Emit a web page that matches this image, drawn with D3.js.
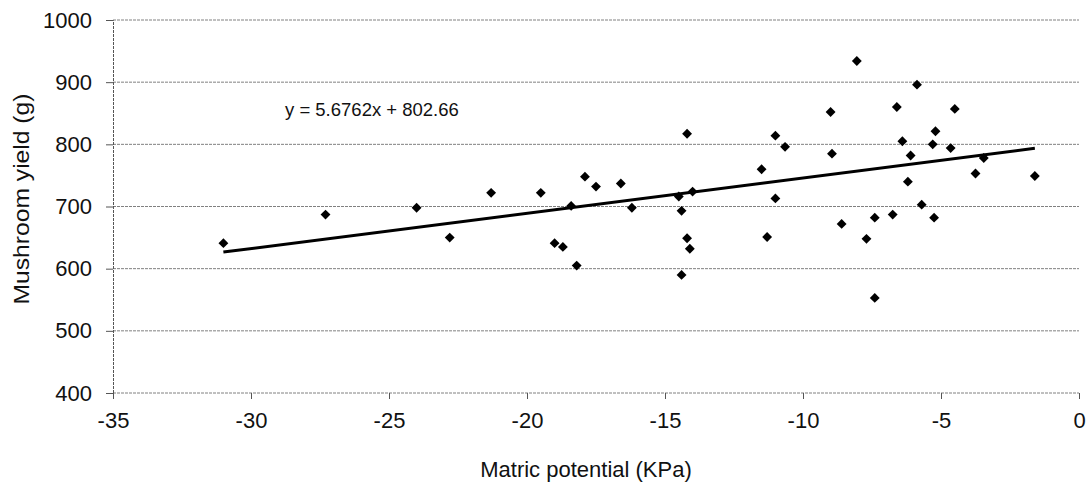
<!DOCTYPE html>
<html>
<head>
<meta charset="utf-8">
<script src="https://cdn.jsdelivr.net/npm/d3@7/dist/d3.min.js"></script>
<style>
  html, body { margin: 0; padding: 0; background: #fff; }
  svg { display: block; font-family: "Liberation Sans", Arial, sans-serif; }
</style>
</head>
<body>
<svg id="chart" width="1090" height="490"></svg>
<script>
// Matric potential (KPa) of each substrate sample
const potential = [
  -31.0, -27.3, -24.0, -22.8, -21.3, -19.5, -19.0, -18.7, -18.4, -18.2,
  -17.9, -17.5, -16.6, -16.2, -14.5, -14.4, -14.4, -14.2, -14.2, -14.1,
  -14.0, -11.5, -11.3, -11.0, -11.0, -10.65, -9.0, -8.95, -8.6, -8.05,
  -7.7, -7.4, -7.4, -6.75, -6.6, -6.4, -6.2, -6.1, -5.87, -5.7,
  -5.3, -5.2, -5.25, -4.65, -4.5, -3.75, -3.45, -1.6
];
// Mushroom yield (g) for the same samples
const yieldG = [
  641, 687, 698, 650, 722, 722, 641, 635, 701, 605,
  748, 732, 737, 698, 716, 693, 590, 817, 649, 632,
  724, 760, 651, 814, 713, 796, 852, 785, 672, 934,
  648, 682, 553, 687, 860, 805, 740, 782, 896, 703,
  800, 821, 682, 794, 857, 753, 778, 749
];
// Linear trend: y = slope * x + intercept
const slope = 5.6762;
const intercept = 802.66;
const xTicks = [-35, -30, -25, -20, -15, -10, -5, 0];
const yTicks = [400, 500, 600, 700, 800, 900, 1000];

const svg = d3.select("#chart");
const x = d3.scaleLinear().domain([-35, 0]).range([113, 1079]);
const y = d3.scaleLinear().domain([400, 1000]).range([393, 20]);

const gridColor = "#808080";
const plain = d => String(d);   // hyphen minus, no thousands separator

// horizontal gridlines
svg.append("g").selectAll("line").data(yTicks).join("line")
  .attr("x1", x(-35)).attr("x2", x(0))
  .attr("y1", d => y(d)).attr("y2", d => y(d))
  .attr("stroke", gridColor).attr("stroke-width", 1)
  .attr("stroke-dasharray", "3,1");

// y axis
const yAxis = svg.append("g")
  .attr("transform", `translate(${x(-35)},0)`)
  .call(d3.axisLeft(y).tickValues(yTicks).tickFormat(plain).tickSize(7).tickPadding(14));
yAxis.select(".domain").attr("stroke", "#555").attr("stroke-dasharray", "3,1");
yAxis.selectAll(".tick line").attr("stroke", "#555");
yAxis.selectAll("text").attr("font-size", 22).attr("fill", "#111")
  .attr("font-family", "Liberation Sans, Arial, sans-serif");

// x axis
const xAxis = svg.append("g")
  .attr("transform", `translate(0,${y(400)})`)
  .call(d3.axisBottom(x).tickValues(xTicks).tickFormat(plain).tickSize(6).tickPadding(13));
xAxis.select(".domain").remove();
xAxis.selectAll(".tick line").attr("stroke", "#555");
xAxis.selectAll("text").attr("font-size", 22).attr("fill", "#111")
  .attr("font-family", "Liberation Sans, Arial, sans-serif");

// regression line over the data range
const [xmin, xmax] = d3.extent(potential);
svg.append("line")
  .attr("x1", x(xmin)).attr("y1", y(slope * xmin + intercept))
  .attr("x2", x(xmax)).attr("y2", y(slope * xmax + intercept))
  .attr("stroke", "#000").attr("stroke-width", 3);

// data points as diamonds
const diamond = d3.symbol().type(d3.symbolDiamond2).size(62);
svg.append("g").selectAll("path").data(potential).join("path")
  .attr("d", diamond)
  .attr("transform", (d, i) => `translate(${x(d)},${y(yieldG[i])})`)
  .attr("fill", "#000");

// equation label
svg.append("text")
  .attr("x", 285).attr("y", 116)
  .attr("font-size", 18.5).attr("fill", "#111")
  .text(`y = ${slope}x + ${intercept}`);

// axis titles
svg.append("text")
  .attr("x", 586).attr("y", 477)
  .attr("text-anchor", "middle").attr("font-size", 22).attr("fill", "#111")
  .text("Matric potential (KPa)");

svg.append("text")
  .attr("transform", "translate(29,199) rotate(-90)")
  .attr("text-anchor", "middle").attr("font-size", 22).attr("fill", "#111")
  .attr("textLength", 211).attr("lengthAdjust", "spacingAndGlyphs")
  .text("Mushroom yield (g)");
</script>
</body>
</html>
